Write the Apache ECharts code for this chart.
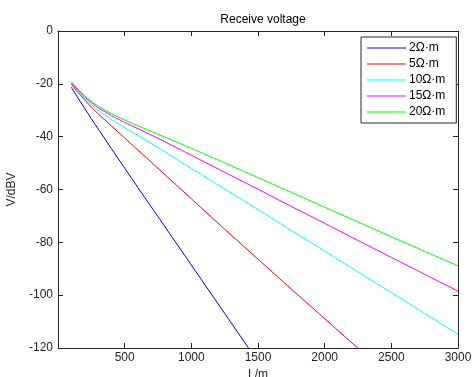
<!DOCTYPE html>
<html><head><meta charset="utf-8">
<script src="https://cdn.jsdelivr.net/npm/echarts@6/dist/echarts.min.js"></script>
<style>html,body{margin:0;padding:0;background:#fff}#c{width:472px;height:377px}</style>
</head><body><div id="c"></div>
<script>
var xs = [100, 150, 200, 250, 300, 400, 500, 600, 750, 1000, 1250, 1500, 1750, 2000, 2250, 2500, 2750, 3000];
var names = ['2Ω·m', '5Ω·m', '10Ω·m', '15Ω·m', '20Ω·m'];
var v2  = [-21.3, -25.4, -29.3, -33.2, -37.0, -44.5, -51.9, -59.3, -70.3, -88.6, -106.9, -125.2, null, null, null, null, null, null];
var v5  = [-20.2, -23.3, -26.1, -28.8, -31.3, -35.9, -40.5, -45.1, -52.0, -63.5, -75.0, -86.4, -97.7, -108.9, -120.1, -131.2, null, null];
var v10 = [-19.8, -22.9, -25.6, -27.9, -30.0, -33.5, -36.6, -39.5, -44.1, -52.0, -59.8, -67.6, -75.5, -83.3, -91.2, -99.0, -106.9, -114.8];
var v15 = [-19.6, -22.5, -25.0, -27.1, -29.0, -32.0, -34.6, -37.0, -40.6, -47.0, -53.5, -59.9, -66.4, -72.8, -79.3, -85.7, -92.1, -98.5];
var v20 = [-19.2, -22.1, -24.5, -26.6, -28.4, -31.3, -33.7, -35.9, -39.1, -44.4, -49.9, -55.5, -61.1, -66.7, -72.3, -77.9, -83.4, -88.9];
var colors = ['#0000ff', '#ff0000', '#00ffff', '#ff00ff', '#00ff00'];
var xTicks = [500, 1000, 1500, 2000, 2500, 3000];
var yTicks = [0, -20, -40, -60, -80, -100, -120];

var allVals = [v2, v5, v10, v15, v20];
function pairs(v){ var r=[]; for(var i=0;i<xs.length;i++){ if(v[i]!==null) r.push([xs[i], v[i]]); } return r; }
var FF = 'Liberation Sans, Arial, sans-serif';
var axisCol = '#262626';
function xAx(pos, show){
  return {type:'value', position:pos, min:0, max:3000, interval:500,
    axisLine:{show:true, onZero:false, lineStyle:{color:axisCol, width:1}},
    axisTick:{show:true, inside:true, length:5, lineStyle:{color:axisCol}},
    splitLine:{show:false},
    axisLabel:{show:show, color:'#262626', fontSize:12, fontFamily:FF, margin:4,
      formatter:function(v){ return xTicks.indexOf(v)>=0 ? String(v) : ''; }},
    name: show ? 'L/m' : '', nameLocation:'middle', nameGap:18,
    nameTextStyle:{color:'#262626', fontSize:12, fontFamily:FF}};
}
function yAx(pos, show){
  return {type:'value', position:pos, min:-120, max:0, interval:20,
    axisLine:{show:true, onZero:false, lineStyle:{color:axisCol, width:1}},
    axisTick:{show:true, inside:true, length:5, lineStyle:{color:axisCol}},
    splitLine:{show:false},
    axisLabel:{show:show, color:'#262626', fontSize:12, fontFamily:FF, margin:5,
      formatter:function(v){ return yTicks.indexOf(v)>=0 ? String(v) : ''; }},
    name: show ? 'V/dBV' : '', nameLocation:'middle', nameGap:37,
    nameTextStyle:{color:'#262626', fontSize:12, fontFamily:FF}};
}
var series = names.map(function(n,i){
  return {name:n, type:'line', xAxisIndex:0, yAxisIndex:0, data:pairs(allVals[i]),
    showSymbol:false, symbol:'none', clip:true, animation:false,
    lineStyle:{color:colors[i], width:1}, itemStyle:{color:colors[i]}};
});
var chart = echarts.init(document.getElementById('c'), null, {renderer:'canvas'});
chart.setOption({
  animation:false,
  title:{text:'Receive voltage', left:258, top:9, textAlign:'center',
    textStyle:{fontSize:12, fontWeight:'normal', color:'#000', fontFamily:FF}},
  grid:{left:58, right:14, top:31, bottom:29, containLabel:false, outerBoundsMode:'none'},
  xAxis:[xAx('bottom', true), xAx('top', false)],
  yAxis:[yAx('left', true), yAx('right', false)],
  legend:{data:names.map(function(n,i){return {name:n, icon:'rect', itemStyle:{color:colors[i], borderWidth:0}};}),
    orient:'vertical', left:361, top:37,
    padding:[4,11,4,6], itemGap:2, itemWidth:39, itemHeight:1,
    backgroundColor:'#fff', borderColor:axisCol, borderWidth:1, borderRadius:0,
    textStyle:{fontSize:12, color:'#000', fontFamily:FF, padding:[0,0,0,-2], lineHeight:14}},
  series:series
});
</script></body></html>
